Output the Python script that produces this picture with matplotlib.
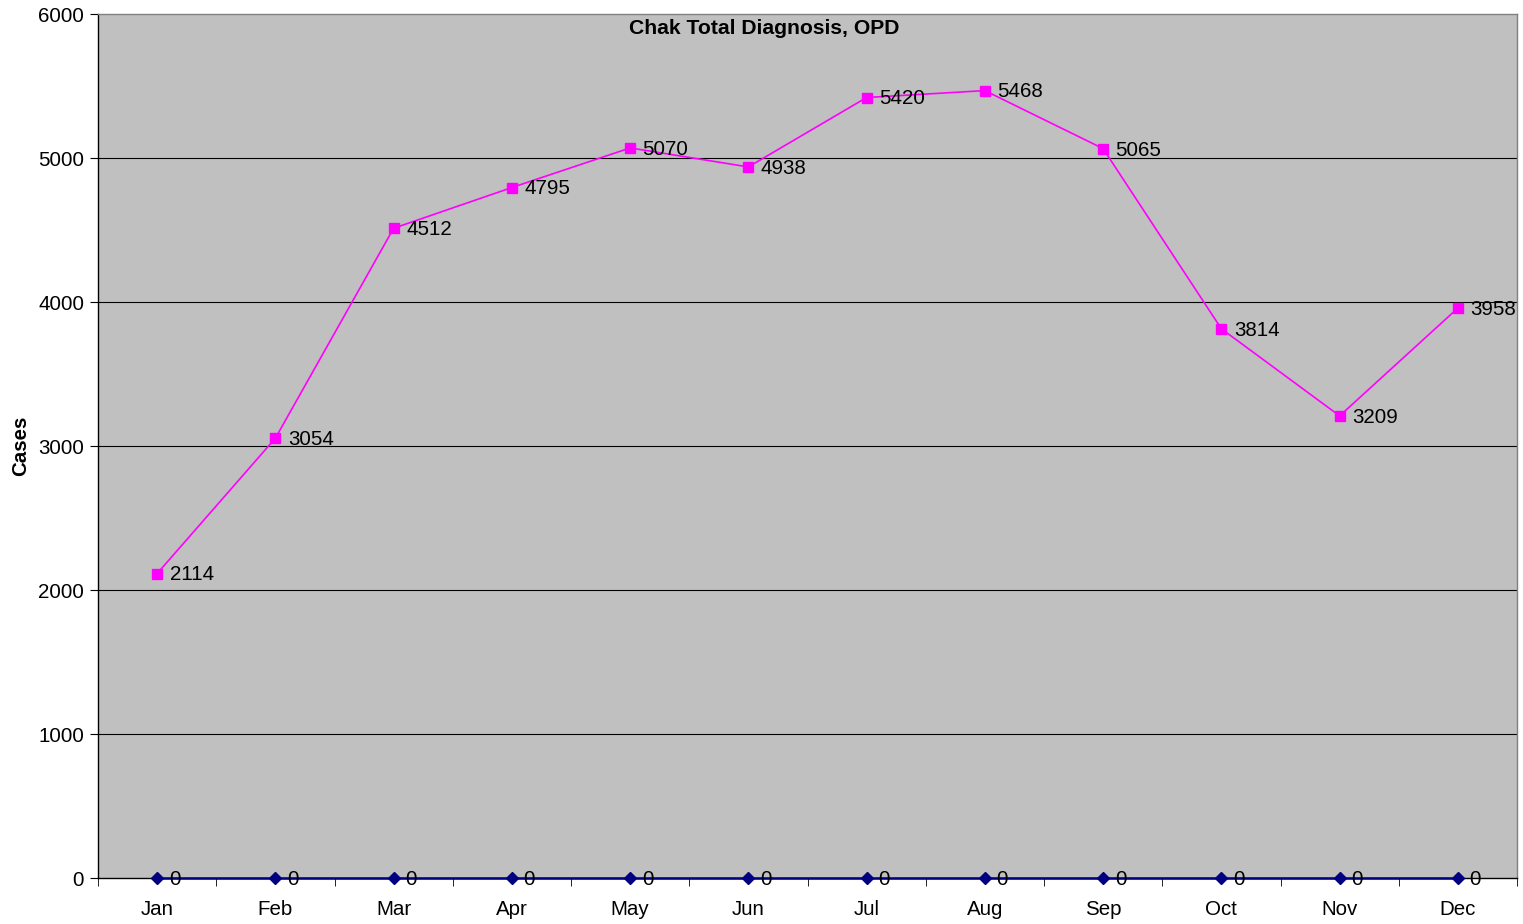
import matplotlib
matplotlib.use("Agg")
import matplotlib.pyplot as plt
import numpy as np

months = ["Jan", "Feb", "Mar", "Apr", "May", "Jun", "Jul", "Aug", "Sep", "Oct", "Nov", "Dec"]
total_cases = [2114, 3054, 4512, 4795, 5070, 4938, 5420, 5468, 5065, 3814, 3209, 3958]
other_cases = [0, 0, 0, 0, 0, 0, 0, 0, 0, 0, 0, 0]
yticks = [0, 1000, 2000, 3000, 4000, 5000, 6000]

plt.rcParams['font.family'] = ['Liberation Sans', 'DejaVu Sans']
FS = 14.8

fig = plt.figure(figsize=(15.23, 9.24), dpi=100)
ax = fig.add_axes([98/1523, 46/924, (1517-98)/1523, (878-14)/924])
ax.set_facecolor('#C0C0C0')

x = np.arange(len(months))
ax.set_xlim(-0.5, len(months) - 0.5)
ax.set_ylim(0, 6000)

for y in yticks[1:-1]:
    ax.axhline(y, color='black', lw=0.8, zorder=1)

ax.plot(x, total_cases, color='#FF00FF', lw=1.2, marker='s', markersize=7,
        markerfacecolor='#FF00FF', markeredgecolor='#FF00FF', zorder=3, clip_on=False)
ax.plot(x, other_cases, color='#000080', lw=1.8, marker='D', markersize=6,
        markerfacecolor='#000080', markeredgecolor='#000080', zorder=4, clip_on=False)

for xi, v in zip(x, total_cases):
    ax.annotate(str(v), (xi, v), xytext=(9, -1), textcoords='offset points',
                ha='left', va='center', fontsize=FS, color='black', zorder=5)
for xi, v in zip(x, other_cases):
    ax.annotate(str(v), (xi, v), xytext=(8.5, -1), textcoords='offset points',
                ha='left', va='center', fontsize=FS, color='black', zorder=5,
                annotation_clip=False)

ax.set_yticks(yticks)
ax.set_yticklabels([str(t) for t in yticks], fontsize=FS)
ax.set_xticks(x)
ax.set_xticklabels(months, fontsize=FS)
ax.set_xticks(np.arange(-0.5, len(months), 1.0), minor=True)
ax.tick_params(axis='x', which='major', length=0, pad=15.5)
ax.tick_params(axis='x', which='minor', length=6, direction='out', color='black')
ax.tick_params(axis='y', which='major', length=6, direction='out', color='black', pad=4)

ax.spines['left'].set_color('black')
ax.spines['bottom'].set_color('black')
ax.spines['top'].set_color('#808080')
ax.spines['right'].set_color('#808080')
for s in ax.spines.values():
    s.set_linewidth(1.0)

fig.text(764/1523, 1 - 28/924, "Chak Total Diagnosis, OPD",
         ha='center', va='center', fontsize=15.2, fontweight='bold')
ax.set_ylabel("Cases", fontsize=FS, fontweight='bold', labelpad=6)

fig.savefig("out.png", dpi=100)
